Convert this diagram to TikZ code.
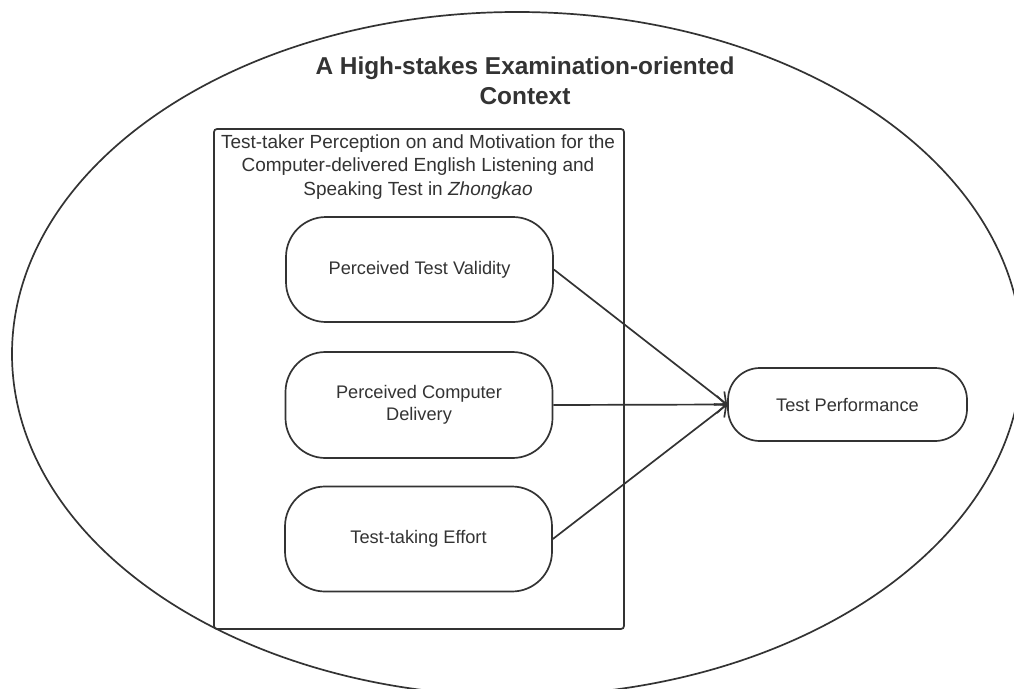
\documentclass[tikz,border=0pt]{standalone}
\usepackage{fontspec}
\setmainfont{Liberation Sans}
\usetikzlibrary{arrows.meta}
\definecolor{ink}{HTML}{333333}
\begin{document}
\begin{tikzpicture}[x=1pt,y=-1pt,
  line/.style={draw=ink, line width=1.7pt},
  pill/.style={line, rounded corners=40pt, minimum width=267pt, minimum height=105pt, align=center, text=ink, font=\fontsize{18.2}{22}\selectfont, inner sep=0pt},
  conn/.style={line, -{Straight Barb[length=9pt,width=17pt,line width=1.7pt]}},
  label/.style={text=ink, align=center, inner sep=0pt}
]
\useasboundingbox (0,0) rectangle (1014,688);
\fill[white] (0,0) rectangle (1014,688);
\begin{scope}
\clip (0,0) rectangle (1014,688);
\draw[line] (517,354) ellipse [x radius=505pt, y radius=342pt];
\end{scope}
\node[label, font=\fontsize{24.4}{30}\selectfont\bfseries] (title) at (525,81) {A High-stakes Examination-oriented\\Context};
\node[line, rounded corners=3pt, minimum width=410pt, minimum height=500pt, inner sep=0pt] (frame) at (419,379) {};
\node[label, font=\fontsize{19}{23.5}\selectfont] (hdr) at (418,167) {Test-taker Perception on and Motivation for the\\Computer-delivered English Listening and\\Speaking Test in \textit{Zhongkao}};
\node[pill] (ptv) at (419.5,269.5) {Perceived Test Validity};
\node[pill, minimum height=106pt] (pcd) at (419,405) {Perceived Computer\\Delivery};
\node[pill] (tte) at (418.5,539) {Test-taking Effort};
\node[pill, minimum width=239pt, minimum height=73pt, rounded corners=32pt] (tp) at (847.5,404.5) {Test Performance};
\draw[conn] (ptv.east) -- (tp.west);
\draw[conn] (pcd.east) -- (tp.west);
\draw[conn] (tte.east) -- (tp.west);
\end{tikzpicture}
\end{document}
